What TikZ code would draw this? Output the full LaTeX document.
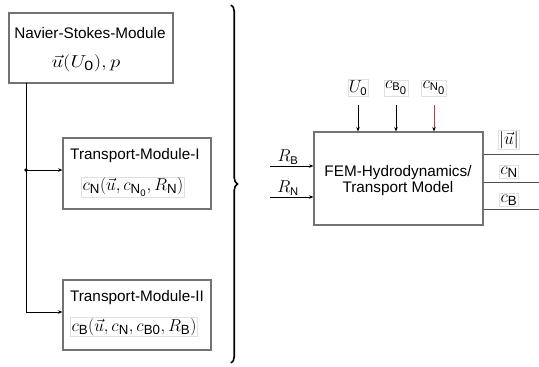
\documentclass[tikz,border=0pt]{standalone}
\usepackage{fontspec}
\setsansfont{Liberation Sans}
\usepackage{graphicx}
\usetikzlibrary{arrows.meta,decorations.pathreplacing}
\begin{document}
\begin{tikzpicture}[x=1pt,y=-1pt,
  box/.style={draw=black!55,line width=1.1pt,inner sep=0pt},
  title/.style={font=\sffamily\fontsize{15.3}{16}\selectfont,inner sep=0pt,align=center},
  formula/.style={font=\fontsize{19}{22}\selectfont,draw=black!12,line width=0.5pt,inner sep=1pt},
  lab/.style={font=\fontsize{16}{19}\selectfont,draw=black!12,line width=0.5pt,inner sep=1pt},
  olab/.style={font=\fontsize{19}{22}\selectfont,draw=black!12,line width=0.5pt,inner sep=1pt},
  wire/.style={line width=0.8pt},
  conn/.style={line width=0.8pt,-{Stealth[length=4.5pt,width=3.5pt]}},
  redconn/.style={line width=0.8pt,draw={rgb,255:red,200;green,60;blue,60},-{Stealth[length=4.5pt,width=3.5pt,color=black]}}
]
\useasboundingbox (0,0) rectangle (539,367);

% left boxes
\node[box,minimum width=164pt,minimum height=70pt] (ns) at (91,48) {};
\node[title] (nst) at (90,33) {Navier-Stokes-Module};
\node[formula,draw=none] (nsf) at (86,63) {\scalebox{1.2}[1]{$\vec{u}(U_{\mathsf{0}}),p$}};

\node[box,minimum width=148pt,minimum height=71pt] (tm1) at (137,173.5) {};
\node[title] (tm1t) at (135,156) {Transport-Module-I};
\node[formula] (tm1f) at (133,187) {$c_{\mathsf{N}}(\vec{u},c_{\mathsf{N}_{\mathsf{0}}},R_{\mathsf{N}})$};

\node[box,minimum width=148pt,minimum height=70pt] (tm2) at (137,315) {};
\node[title] (tm2t) at (137,298) {Transport-Module-II};
\node[formula] (tm2f) at (134,327) {$c_{\mathsf{B}}(\vec{u},c_{\mathsf{N}},c_{\mathsf{B0}},R_{\mathsf{B}})$};

% left connectors
\coordinate (nsout) at (26,83);
\coordinate (branch) at (26,170);
\coordinate (corner) at (26,312);
\draw[wire] (nsout) -- (corner);
\draw[conn] (corner) -- (corner -| tm2.west);
\draw[conn] (branch) -- (branch -| tm1.west);
\fill (branch) circle (1.8pt);

% brace
\draw[line width=1.6pt,decorate,decoration={brace,amplitude=6.5pt}] (231,5) -- (231,363);

% right block
\node[box,minimum width=169pt,minimum height=93pt] (fem) at (398.5,178.5) {};
\node[title] (femt) at (398,181) {FEM-Hydrodynamics/\\Transport Model};

% top inputs
\node[lab] (u0) at (358,88) {$U_{\mathsf{0}}$};
\node[lab] (cb0) at (396,88) {$c_{\mathsf{B}_{\scriptstyle\mathsf{0}}}$};
\node[lab] (cn0) at (434,88) {$c_{\mathsf{N}_{\scriptstyle\mathsf{0}}}$};
\coordinate (in1) at (358,105);
\coordinate (in2) at (396,105);
\coordinate (in3) at (434,105);
\draw[conn] (in1) -- (in1 |- fem.north);
\draw[conn] (in2) -- (in2 |- fem.north);
\draw[redconn] (in3) -- (in3 |- fem.north);

% left inputs
\node[lab,draw=none] (rbl) at (288,157) {$R_{\mathsf{B}}$};
\node[lab,draw=none] (rnl) at (288,188) {$R_{\mathsf{N}}$};
\coordinate (rb) at (270,166);
\coordinate (rn) at (270,197);
\draw[conn] (rb) -- (rb -| fem.west);
\draw[conn] (rn) -- (rn -| fem.west);

% outputs
\node[olab] (ul) at (509,140) {$|\vec{u}|$};
\node[olab] (cnl) at (509,172) {$c_{\mathsf{N}}$};
\node[olab] (cbl) at (509,200) {$c_{\mathsf{B}}$};
\coordinate (o1) at (539,154);
\coordinate (o2) at (539,182);
\coordinate (o3) at (539,209);
\draw[wire,draw=black!70] (o1 -| fem.east) -- (o1);
\draw[wire,draw=black!70] (o2 -| fem.east) -- (o2);
\draw[wire,draw=black!70] (o3 -| fem.east) -- (o3);
\end{tikzpicture}
\end{document}
